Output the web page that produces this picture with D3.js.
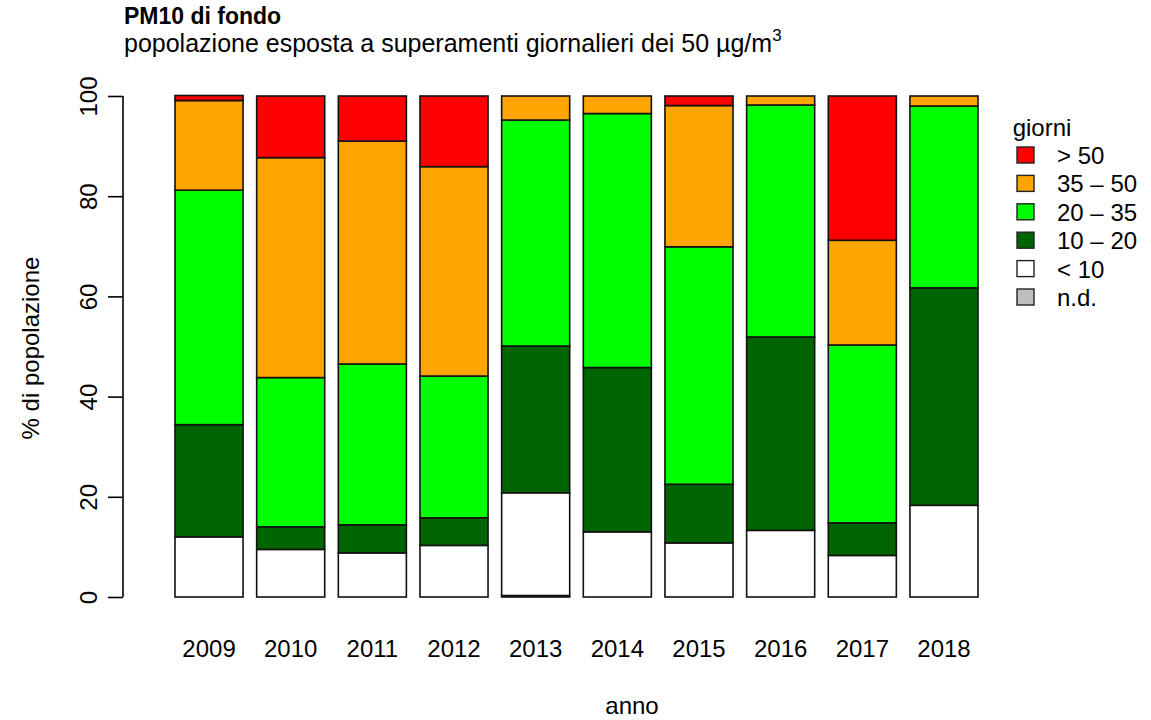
<!DOCTYPE html>
<html>
<head>
<meta charset="utf-8">
<script src="https://cdnjs.cloudflare.com/ajax/libs/d3/7.8.5/d3.min.js"></script>
<style>
  body { margin: 0; background: #fff; }
  svg text { font-family: "Liberation Sans", Arial, sans-serif; fill: #000; }
</style>
</head>
<body>
<div id="chart"></div>
<script>
// data (percent of population per year, bottom to top)
var years = ["2009", "2010", "2011", "2012", "2013", "2014", "2015", "2016", "2017", "2018"];
var nd     = [0,    0,    0,    0,    0.3,  0,    0,    0,    0,    0];
var lt10   = [12.0, 9.5,  8.8,  10.3, 20.5, 13.0, 10.8, 13.3, 8.3,  18.3];
var d10_20 = [22.4, 4.5,  5.6,  5.5,  29.3, 32.8, 11.7, 38.6, 6.5,  43.4];
var d20_35 = [46.8, 29.8, 32.1, 28.3, 45.1, 50.7, 47.4, 46.3, 35.5, 36.3];
var d35_50 = [17.9, 43.9, 44.5, 41.8, 4.8,  3.5,  28.2, 1.8,  20.9, 2.0];
var gt50   = [1.0,  12.3, 9.0,  14.1, 0,    0,    1.9,  0,    28.8, 0];

var seriesKeys   = ["nd", "lt10", "d10_20", "d20_35", "d35_50", "gt50"];
var seriesLabels = ["n.d.", "< 10", "10 \u2013 20", "20 \u2013 35", "35 \u2013 50", "> 50"];
var seriesColors = ["#bebebe", "#ffffff", "#006400", "#00ff00", "#ffa500", "#ff0000"];
var yTicks = [0, 20, 40, 60, 80, 100];

var table = years.map(function(y, i) {
  return { year: y, nd: nd[i], lt10: lt10[i], d10_20: d10_20[i],
           d20_35: d20_35[i], d35_50: d35_50[i], gt50: gt50[i] };
});

var svgWidth = 1151, svgHeight = 720;
var fs = 24;

var svg = d3.select("#chart")
  .append("svg")
  .attr("width", svgWidth)
  .attr("height", svgHeight);

// scales
var xScale = d3.scaleBand()
  .domain(years)
  .range([175, 978])
  .paddingInner(0.2 / 1.2)
  .paddingOuter(0);

var yScale = d3.scaleLinear()
  .domain([0, 100])
  .range([597, 96]);

var stack = d3.stack().keys(seriesKeys);
var stacked = stack(table);

// bars
var layers = svg.append("g").selectAll("g")
  .data(stacked).enter()
  .append("g")
  .attr("fill", (d, i) => seriesColors[i]);

layers.selectAll("rect")
  .data(d => d.filter(p => p[1] - p[0] > 0)).enter()
  .append("rect")
  .attr("x", d => xScale(d.data.year))
  .attr("width", xScale.bandwidth())
  .attr("y", d => yScale(d[1]))
  .attr("height", d => yScale(d[0]) - yScale(d[1]))
  .attr("stroke", "#111")
  .attr("stroke-width", 1.6);

// y axis
var leftAxis = d3.axisLeft(yScale).tickValues(yTicks).tickSize(15);
var yAxisG = svg.append("g")
  .attr("transform", "translate(123,0)")
  .call(leftAxis);
yAxisG.select(".domain").attr("stroke", "#000").attr("stroke-width", 1.6)
  .attr("d", "M0," + yScale(0) + "V" + yScale(100));
yAxisG.selectAll(".tick line").attr("stroke", "#000").attr("stroke-width", 1.6);
yAxisG.selectAll(".tick text")
  .attr("font-size", fs)
  .attr("text-anchor", "middle")
  .attr("x", 0)
  .attr("y", 0)
  .attr("dy", 0)
  .attr("transform", "translate(-26,0) rotate(-90)");

// x labels (no axis line, like barplot)
var bottomAxis = d3.axisBottom(xScale).tickSize(0).tickPadding(0);
var xAxisG = svg.append("g")
  .attr("transform", "translate(0,657)")
  .call(bottomAxis);
xAxisG.select(".domain").remove();
xAxisG.selectAll(".tick text").attr("font-size", fs).attr("y", 0).attr("dy", 0);

// axis titles
svg.append("text")
  .attr("x", 632).attr("y", 714)
  .attr("text-anchor", "middle")
  .attr("font-size", fs)
  .text("anno");

svg.append("text")
  .attr("transform", "translate(39,348) rotate(-90)")
  .attr("text-anchor", "middle")
  .attr("font-size", fs)
  .text("% di popolazione");

// titles
svg.append("text")
  .attr("x", 124).attr("y", 24)
  .attr("font-size", 23)
  .attr("font-weight", "bold")
  .text("PM10 di fondo");

var sub = svg.append("text")
  .attr("x", 124).attr("y", 52)
  .attr("font-size", 25);
sub.append("tspan").text("popolazione esposta a superamenti giornalieri dei 50 \u00b5g/m");
sub.append("tspan").attr("font-size", 17).attr("dy", -11).text("3");

// legend
var legend = svg.append("g");
legend.append("text")
  .attr("x", 1042).attr("y", 136)
  .attr("text-anchor", "middle")
  .attr("font-size", fs)
  .text("giorni");

var legendOrder = [5, 4, 3, 2, 1, 0];
var legendY = d3.scalePoint().domain(legendOrder.map(String)).range([155, 297]);

var items = legend.selectAll(".item")
  .data(legendOrder).enter()
  .append("g")
  .attr("class", "item")
  .attr("transform", d => "translate(0," + legendY(String(d)) + ")");

items.append("rect")
  .attr("x", 1017).attr("y", -8)
  .attr("width", 17).attr("height", 16)
  .attr("fill", d => seriesColors[d])
  .attr("stroke", "#222")
  .attr("stroke-width", 1.4);

items.append("text")
  .attr("x", 1057).attr("y", 9)
  .attr("font-size", fs)
  .text(d => seriesLabels[d]);
</script>
</body>
</html>
